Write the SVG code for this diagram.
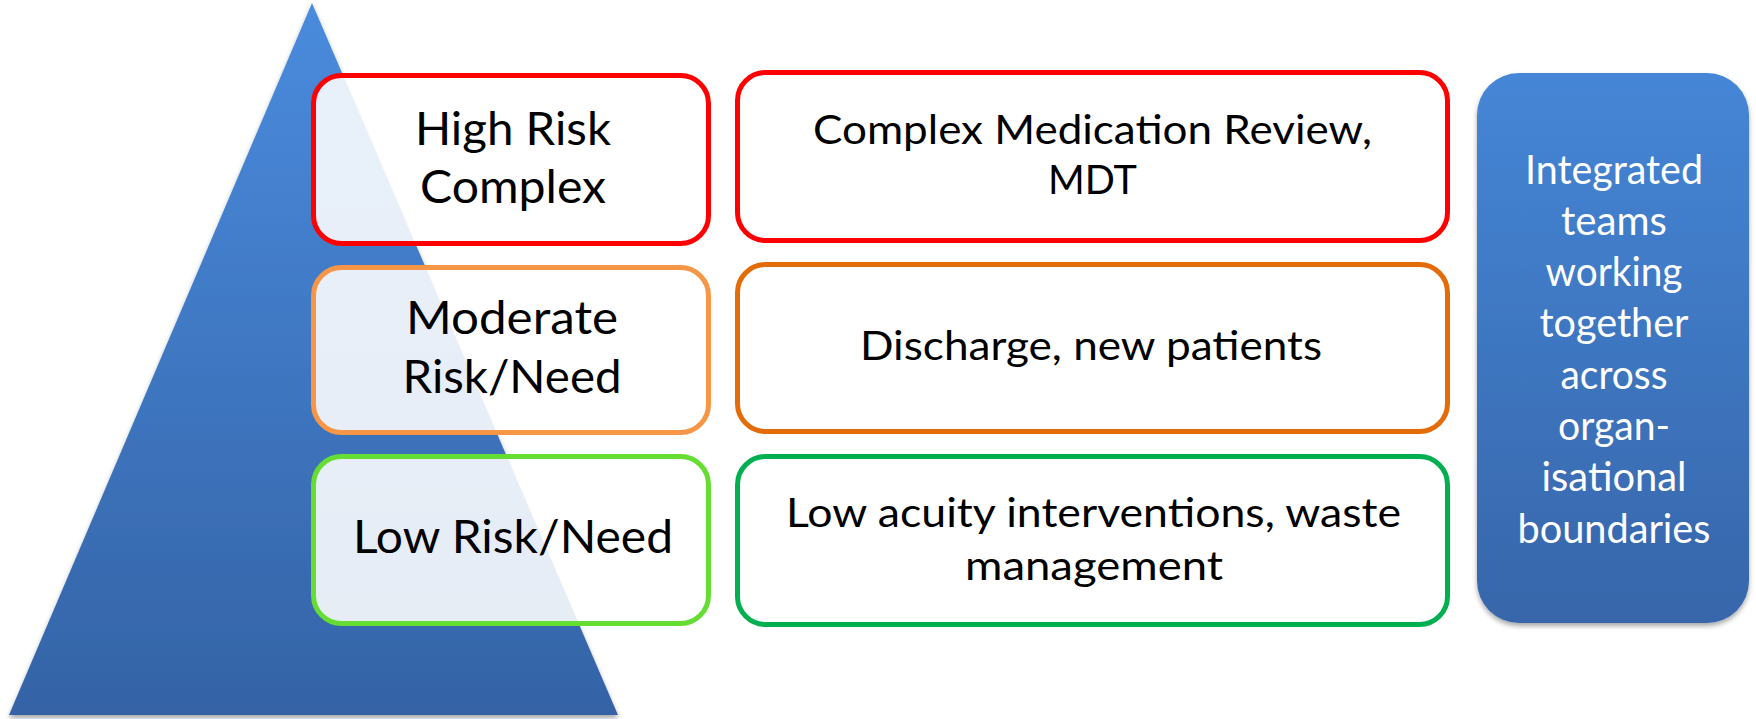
<svg xmlns="http://www.w3.org/2000/svg" width="1756" height="719" viewBox="0 0 1756 719">
<defs>
<linearGradient id="triGrad" x1="0" y1="0" x2="0" y2="1">
<stop offset="0" stop-color="#4A8BDD"/>
<stop offset="1" stop-color="#3463A6"/>
</linearGradient>
<linearGradient id="boxGrad" x1="0" y1="0" x2="0" y2="1">
<stop offset="0" stop-color="#4586D6"/>
<stop offset="1" stop-color="#3766AA"/>
</linearGradient>
<filter id="shadow" x="-10%" y="-10%" width="120%" height="120%">
<feDropShadow dx="0" dy="3" stdDeviation="2.5" flood-color="#000" flood-opacity="0.35"/>
</filter>
</defs>
<style>
.lbox{fill:#fff;fill-opacity:0.88;stroke-width:5}
.rbox{fill:#fff;stroke-width:5}
.t{font-family:Lato,"Liberation Sans",sans-serif;fill:#000;text-anchor:middle}
.tl{font-size:46px}
.tr{font-size:41px}
.tw{font-family:Lato,"Liberation Sans",sans-serif;fill:#fff;text-anchor:middle;font-size:40px}
</style>
<rect width="1756" height="719" fill="#fff"/>
<g id="pyramid">
<polygon points="312,3 618,715 9,715" fill="url(#triGrad)" filter="url(#shadow)"/>
</g>
<g id="high-risk">
<rect class="lbox" x="313.5" y="75.5" width="395" height="168" rx="28" stroke="#FF0000"/>
<text class="t tl" x="513" y="145" textLength="196" lengthAdjust="spacingAndGlyphs">High Risk</text>
<text class="t tl" x="513" y="203" textLength="186" lengthAdjust="spacingAndGlyphs">Complex</text>
</g>
<g id="moderate-risk">
<rect class="lbox" x="313.5" y="267.5" width="395" height="165" rx="28" stroke="#F79646"/>
<text class="t tl" x="512" y="334" textLength="212" lengthAdjust="spacingAndGlyphs">Moderate</text>
<text class="t tl" x="512" y="393" textLength="219" lengthAdjust="spacingAndGlyphs">Risk/Need</text>
</g>
<g id="low-risk">
<rect class="lbox" x="313.5" y="456.5" width="395" height="167" rx="28" stroke="#66DD33"/>
<text class="t tl" x="513" y="553" textLength="320" lengthAdjust="spacingAndGlyphs">Low Risk/Need</text>
</g>
<g id="high-action">
<rect class="rbox" x="737.5" y="72.5" width="710" height="168" rx="28" stroke="#FF0000"/>
<text class="t tr" x="1092.5" y="144" textLength="559" lengthAdjust="spacingAndGlyphs">Complex Medication Review,</text>
<text class="t tr" x="1092.5" y="194" textLength="89" lengthAdjust="spacingAndGlyphs">MDT</text>
</g>
<g id="moderate-action">
<rect class="rbox" x="737.5" y="264.5" width="710" height="167" rx="28" stroke="#E36C09"/>
<text class="t tr" x="1091" y="360" textLength="462" lengthAdjust="spacingAndGlyphs">Discharge, new patients</text>
</g>
<g id="low-action">
<rect class="rbox" x="737.5" y="456.5" width="710" height="168" rx="28" stroke="#00B050"/>
<text class="t tr" x="1093.5" y="527" textLength="615" lengthAdjust="spacingAndGlyphs">Low acuity interventions, waste</text>
<text class="t tr" x="1094" y="580" textLength="258" lengthAdjust="spacingAndGlyphs">management</text>
</g>
<g id="integrated-teams">
<rect x="1477" y="73" width="272" height="550" rx="42" fill="url(#boxGrad)" filter="url(#shadow)"/>
<text class="tw" x="1614" y="183.5" textLength="178" lengthAdjust="spacingAndGlyphs">Integrated</text>
<text class="tw" x="1614" y="234.8" textLength="106" lengthAdjust="spacingAndGlyphs">teams</text>
<text class="tw" x="1614" y="286.1" textLength="137" lengthAdjust="spacingAndGlyphs">working</text>
<text class="tw" x="1614" y="337.4" textLength="149" lengthAdjust="spacingAndGlyphs">together</text>
<text class="tw" x="1614" y="388.7" textLength="107" lengthAdjust="spacingAndGlyphs">across</text>
<text class="tw" x="1614" y="440" textLength="112" lengthAdjust="spacingAndGlyphs">organ-</text>
<text class="tw" x="1614" y="491.3" textLength="145" lengthAdjust="spacingAndGlyphs">isational</text>
<text class="tw" x="1614" y="542.6" textLength="193" lengthAdjust="spacingAndGlyphs">boundaries</text>
</g>
</svg>
